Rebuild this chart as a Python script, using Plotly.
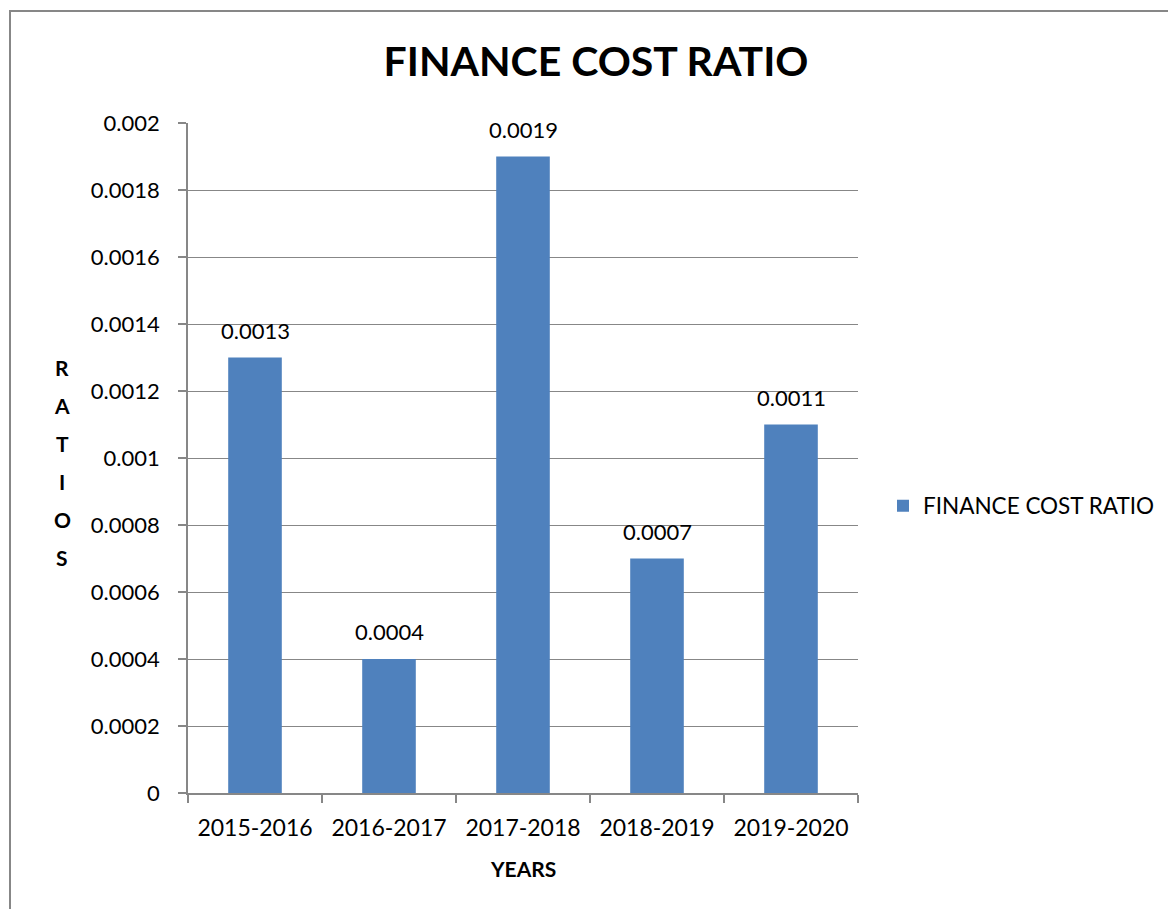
import plotly.graph_objects as go

# Chart data
years = ["2015-2016", "2016-2017", "2017-2018", "2018-2019", "2019-2020"]
finance_cost_ratio = [0.0013, 0.0004, 0.0019, 0.0007, 0.0011]
y_tick_values = [0, 0.0002, 0.0004, 0.0006, 0.0008, 0.001, 0.0012, 0.0014, 0.0016, 0.0018, 0.002]
y_tick_labels = ["0", "0.0002", "0.0004", "0.0006", "0.0008", "0.001",
                 "0.0012", "0.0014", "0.0016", "0.0018", "0.002"]
series_name = "FINANCE COST RATIO"
chart_title = "FINANCE COST RATIO"
x_title = "YEARS"
y_title = "RATIOS"

FONT = "Lato, Open Sans, sans-serif"
BAR = "#4F81BD"
GRID = "#878787"

W, H = 1168, 909
ML, MR, MT, MB = 188, 310, 123, 116
PW = W - ML - MR
PH = H - MT - MB


def px_to_paper_x(px):
    return (px - ML) / PW


def px_to_paper_y(py):
    return (H - MB - py) / PH


fig = go.Figure()
fig.add_trace(go.Bar(
    x=years,
    y=finance_cost_ratio,
    name=series_name,
    marker=dict(color=BAR, line=dict(width=0)),
    width=0.4,
    showlegend=True,
))

# Value labels above each bar
for yr, v in zip(years, finance_cost_ratio):
    fig.add_annotation(
        x=yr, y=v, xref="x", yref="y",
        text=f"{v:g}", showarrow=False,
        yanchor="bottom", yshift=12,
        font=dict(family=FONT, size=22, color="#000000"),
    )

# Stacked vertical axis title
letter_y = [367, 405, 443, 481, 519, 557]
for ch, py in zip(y_title, letter_y):
    fig.add_annotation(
        x=px_to_paper_x(62), y=px_to_paper_y(py), xref="paper", yref="paper",
        text=f"<b>{ch}</b>", showarrow=False,
        xanchor="center", yanchor="middle",
        font=dict(family=FONT, size=21, color="#000000"),
    )

# Horizontal axis title
fig.add_annotation(
    x=0.5, y=px_to_paper_y(868), xref="paper", yref="paper",
    text=f"<b>{x_title}</b>", showarrow=False,
    xanchor="center", yanchor="middle",
    font=dict(family=FONT, size=21, color="#000000"),
)

# Outer chart frame
fig.add_shape(
    type="rect", xref="paper", yref="paper",
    x0=px_to_paper_x(10), y0=px_to_paper_y(960),
    x1=px_to_paper_x(1200), y1=px_to_paper_y(11),
    line=dict(color=GRID, width=2), fillcolor="rgba(0,0,0,0)", layer="below",
)

fig.update_layout(
    width=W, height=H,
    margin=dict(l=ML, r=MR, t=MT, b=MB, autoexpand=False),
    paper_bgcolor="white", plot_bgcolor="white",
    font=dict(family=FONT, size=22, color="#000000"),
    title=dict(
        text=f"<b>{chart_title}</b>",
        x=596 / W, y=1 - 62 / H, xanchor="center", yanchor="middle",
        font=dict(family=FONT, size=41, color="#000000"),
    ),
    bargap=0.6,
    showlegend=True,
    legend=dict(
        x=px_to_paper_x(883), y=px_to_paper_y(506),
        xanchor="left", yanchor="middle",
        font=dict(family=FONT, size=22.5, color="#000000"),
        bgcolor="rgba(0,0,0,0)",
    ),
    xaxis=dict(
        type="category",
        showline=True, linecolor=GRID, linewidth=1.5,
        ticks="outside", tickson="boundaries", ticklen=8, tickcolor=GRID, tickwidth=1.5,
        showgrid=False, zeroline=False,
        tickfont=dict(family=FONT, size=23, color="#000000"),
        ticklabelstandoff=14,
    ),
    yaxis=dict(
        range=[0, 0.002],
        tickvals=y_tick_values, ticktext=y_tick_labels,
        showline=True, linecolor=GRID, linewidth=1.5,
        ticks="outside", ticklen=8, tickcolor=GRID, tickwidth=1.5,
        showgrid=True, gridcolor=GRID, gridwidth=1.2,
        zeroline=False,
        tickfont=dict(family=FONT, size=22, color="#000000"),
        ticklabelstandoff=14,
    ),
)

fig.write_html("out.html")
